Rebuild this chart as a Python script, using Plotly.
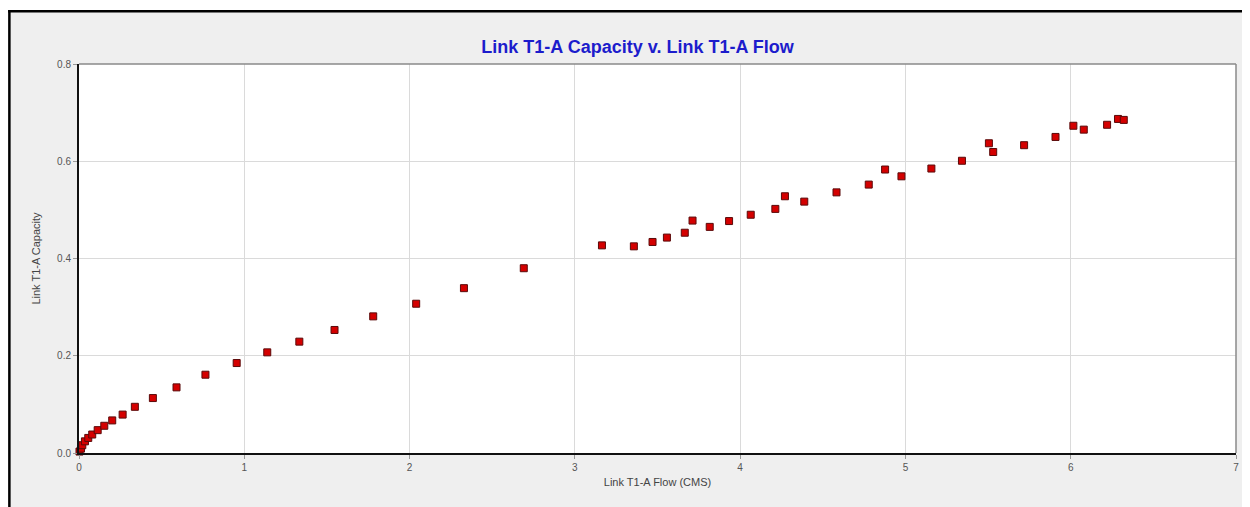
import plotly.graph_objects as go

# Data
flow_cms = [0.003, 0.012, 0.020, 0.036, 0.056, 0.080, 0.113, 0.153, 0.201, 0.264,
            0.338, 0.447, 0.590, 0.765, 0.954, 1.139, 1.333, 1.546, 1.780, 2.040,
            2.329, 2.691, 3.164, 3.357, 3.470, 3.557, 3.665, 3.712, 3.816, 3.933,
            4.064, 4.213, 4.271, 4.388, 4.583, 4.778, 4.877, 4.976, 5.157, 5.342,
            5.505, 5.531, 5.718, 5.908, 6.016, 6.079, 6.220, 6.286, 6.321]
capacity = [0.003, 0.009, 0.016, 0.024, 0.031, 0.038, 0.047, 0.056, 0.067, 0.079,
            0.095, 0.113, 0.135, 0.161, 0.185, 0.207, 0.229, 0.253, 0.281, 0.307,
            0.339, 0.380, 0.427, 0.425, 0.434, 0.443, 0.453, 0.478, 0.465, 0.477,
            0.490, 0.502, 0.528, 0.517, 0.536, 0.552, 0.583, 0.569, 0.585, 0.601,
            0.637, 0.619, 0.633, 0.650, 0.673, 0.665, 0.675, 0.687, 0.685]
x_ticks = [0, 1, 2, 3, 4, 5, 6, 7]
y_ticks = [0.0, 0.2, 0.4, 0.6, 0.8]

# the page body has an 8px margin, so the figure starts at (8, 8) in the window
OFF = 8
W, H = 1250 - OFF, 507 - OFF
L, R, T, B = 79 - OFF, 1239 - OFF, 64 - OFF, 453 - OFF


def px(xp):
    return (xp - OFF - L) / (R - L)


def py(yp):
    return (B - (yp - OFF)) / (B - T)


fig = go.Figure()
fig.add_trace(go.Scatter(
    x=flow_cms, y=capacity, mode="markers",
    marker=dict(symbol="square", size=7, color="#d40000",
                line=dict(color="#5a0a0a", width=1)),
    cliponaxis=False, showlegend=False,
))

font_family = "Liberation Sans, Arial, sans-serif"

fig.update_layout(
    width=W, height=H,
    margin=dict(l=L, r=W - R, t=T, b=H - B, pad=0),
    paper_bgcolor="#efefef",
    plot_bgcolor="#ffffff",
    font=dict(family=font_family, size=10, color="#555555"),
    title=dict(text="<b>Link T1-A Capacity v. Link T1-A Flow</b>",
               font=dict(family=font_family, size=18, color="#1c1ccc"),
               x=px(639), xref="paper", xanchor="center",
               y=1 - (47 - OFF) / H, yref="container", yanchor="middle"),
    xaxis=dict(range=[0, 7], tickvals=x_ticks, ticktext=[str(v) for v in x_ticks],
               showgrid=True, gridcolor="#dadada", gridwidth=1,
               zeroline=False, showline=True, linecolor="#111111", linewidth=2,
               ticks="outside", ticklen=4, tickcolor="#999999",
               tickfont=dict(size=10, color="#555555"),
               title=dict(text="Link T1-A Flow (CMS)", standoff=6,
                          font=dict(size=11, color="#444444"))),
    yaxis=dict(range=[0, 0.8], tickvals=y_ticks, tickformat=".1f",
               showgrid=True, gridcolor="#dadada", gridwidth=1,
               zeroline=False, showline=True, linecolor="#111111", linewidth=2,
               ticks="outside", ticklen=4, tickcolor="#999999",
               tickfont=dict(size=10, color="#555555"),
               title=dict(text="Link T1-A Capacity", standoff=14,
                          font=dict(size=11, color="#444444"))),
)

shapes = [
    # white strip above the outer frame
    dict(type="rect", xref="paper", yref="paper",
         x0=px(0), x1=px(1260), y0=py(10), y1=py(0),
         fillcolor="#ffffff", line=dict(width=0), layer="above"),
    # outer frame (left and top)
    dict(type="line", xref="paper", yref="paper",
         x0=px(9.2), x1=px(9.2), y0=py(520), y1=py(10),
         line=dict(color="#000000", width=2.5)),
    dict(type="line", xref="paper", yref="paper",
         x0=px(8), x1=px(1260), y0=py(11.2), y1=py(11.2),
         line=dict(color="#000000", width=2.5)),
    # plot area top and right borders (grey)
    dict(type="line", xref="x domain", yref="y domain",
         x0=0, x1=1, y0=1, y1=1, line=dict(color="#8a8a8a", width=1.5)),
    dict(type="line", xref="x domain", yref="y domain",
         x0=1, x1=1, y0=0, y1=1, line=dict(color="#8a8a8a", width=1.5)),
]
fig.update_layout(shapes=shapes)

fig.write_html("out.html")
